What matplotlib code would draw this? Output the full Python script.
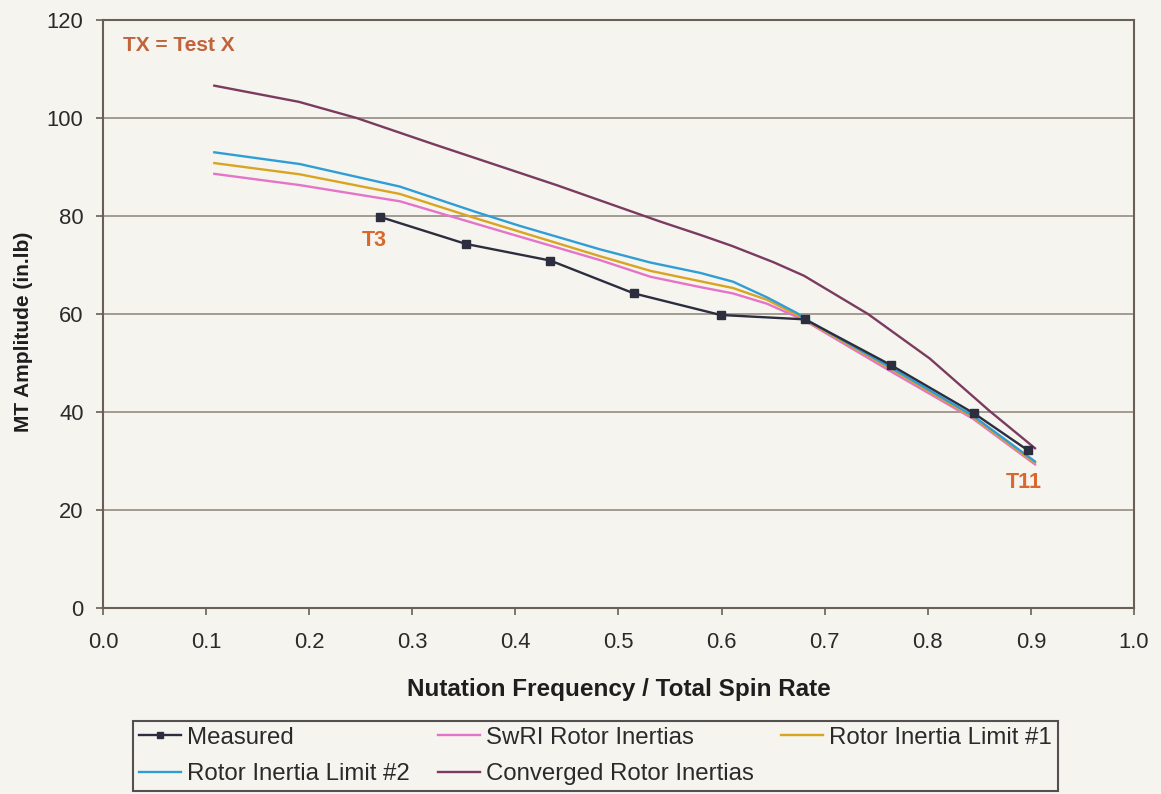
import matplotlib
matplotlib.use("Agg")
import matplotlib.pyplot as plt
from matplotlib.ticker import FormatStrFormatter

plt.rcParams['font.family'] = ['Liberation Sans', 'DejaVu Sans']

# measured moment amplitudes (tests T3 ... T11)
meas_x = [0.269, 0.352, 0.434, 0.515, 0.599, 0.681, 0.764, 0.845, 0.897]
meas_y = [79.8, 74.3, 70.9, 64.2, 59.8, 58.9, 49.6, 39.7, 32.2]

# predictions, SwRI rotor inertias
swri_x = [0.108, 0.191, 0.288, 0.362, 0.404, 0.482, 0.531, 0.579, 0.611, 0.644, 0.673, 0.681, 0.764, 0.844, 0.904]
swri_y = [88.6, 86.3, 83.0, 78.4, 75.8, 71.0, 67.6, 65.5, 64.2, 62.1, 59.4, 58.6, 48.3, 38.6, 29.3]

# predictions, rotor inertia limit #1
lim1_x = [0.108, 0.191, 0.288, 0.362, 0.404, 0.482, 0.531, 0.579, 0.611, 0.644, 0.673, 0.681, 0.764, 0.844, 0.904]
lim1_y = [90.8, 88.5, 84.5, 79.5, 76.8, 71.8, 68.8, 66.7, 65.3, 62.9, 59.8, 58.8, 48.8, 38.9, 29.6]

# predictions, rotor inertia limit #2
lim2_x = [0.108, 0.191, 0.288, 0.362, 0.404, 0.482, 0.531, 0.579, 0.611, 0.644, 0.673, 0.681, 0.764, 0.844, 0.904]
lim2_y = [93.0, 90.6, 86.0, 80.8, 78.0, 73.2, 70.5, 68.4, 66.6, 63.4, 60.2, 59.0, 49.1, 39.2, 29.9]

# predictions, converged rotor inertias
conv_x = [0.108, 0.19, 0.246, 0.32, 0.39, 0.44, 0.49, 0.54, 0.58, 0.61, 0.65, 0.68, 0.742, 0.802, 0.86, 0.904]
conv_y = [106.6, 103.3, 100.0, 94.7, 89.8, 86.3, 82.6, 78.9, 76.1, 73.9, 70.6, 67.8, 60.0, 50.9, 40.2, 32.6]

x_ticks = [0.0, 0.1, 0.2, 0.3, 0.4, 0.5, 0.6, 0.7, 0.8, 0.9, 1.0]
y_ticks = [0, 20, 40, 60, 80, 100, 120]

papel = '#f5f4ef'
cor_eixo = '#6a5f57'

fig = plt.figure(figsize=(11.61, 7.94), dpi=100, facecolor=papel)
ax = fig.add_axes([0.0887, 0.2343, 0.888, 0.7405], facecolor=papel)

l_swri, = ax.plot(swri_x, swri_y, color='#e673c9', lw=1.7, label='SwRI Rotor Inertias')
l_lim1, = ax.plot(lim1_x, lim1_y, color='#d9a521', lw=1.7, label='Rotor Inertia Limit #1')
l_lim2, = ax.plot(lim2_x, lim2_y, color='#2f9ed6', lw=1.7, label='Rotor Inertia Limit #2')
l_conv, = ax.plot(conv_x, conv_y, color='#7b3b5f', lw=1.7, label='Converged Rotor Inertias')
l_meas, = ax.plot(meas_x, meas_y, color='#2c2d3e', lw=1.7, marker='s', ms=5.8,
                  label='Measured')

ax.set_xlim(0, 1.0)
ax.set_ylim(0, 120)
ax.set_xticks(x_ticks)
ax.set_yticks(y_ticks)
ax.xaxis.set_major_formatter(FormatStrFormatter('%.1f'))
ax.grid(axis='y', color='#8c8378', lw=1.1)
ax.set_axisbelow(True)
for s in ax.spines.values():
    s.set_color(cor_eixo)
    s.set_linewidth(1.5)
ax.tick_params(axis='y', length=5, width=1.2, color=cor_eixo, pad=9, labelsize=15.8, labelcolor='#2a2a2a')
ax.tick_params(axis='x', length=5, width=1.2, color=cor_eixo, pad=12, labelsize=15.8, labelcolor='#2a2a2a')

ax.set_xlabel('Nutation Frequency / Total Spin Rate', fontsize=17.5, fontweight='bold',
              color='#1e1e1e', labelpad=18)
ax.set_ylabel('MT Amplitude (in.lb)', fontsize=15, fontweight='bold', color='#1e1e1e')
ax.yaxis.set_label_coords(-0.068, 0.469)

ax.text(0.019, 114.7, 'TX = Test X', fontsize=15, fontweight='bold', color='#c0643c',
        ha='left', va='center')
ax.annotate('T3', xy=(meas_x[0], meas_y[0]), xytext=(-4.3, -16.6), textcoords='offset points',
            fontsize=15.5, fontweight='bold', color='#d9682e', ha='center', va='center')
ax.annotate('T11', xy=(meas_x[-1], meas_y[-1]), xytext=(-2.9, -23), textcoords='offset points',
            fontsize=15.5, fontweight='bold', color='#d9682e', ha='center', va='center')

# legenda em 3 colunas, preenchida por linhas
handles = [l_meas, l_lim2, l_swri, l_conv, l_lim1]
leg = fig.legend(handles=handles, labels=[h.get_label() for h in handles], ncol=3,
                 loc='lower left', bbox_to_anchor=(133 / 1161, 3 / 794, 925 / 1161, 68 / 794),
                 mode='expand', fontsize=17.3, frameon=True, fancybox=False,
                 edgecolor='#555050', facecolor=papel, framealpha=1,
                 handlelength=1.75, handletextpad=0.25, labelspacing=0.6, borderpad=0.25,
                 borderaxespad=0, columnspacing=1.0, markerscale=0.8)
leg.get_frame().set_linewidth(1.5)
for t in leg.get_texts():
    t.set_color('#2a2a2a')

fig.savefig('out.png', dpi=100, facecolor=papel)
